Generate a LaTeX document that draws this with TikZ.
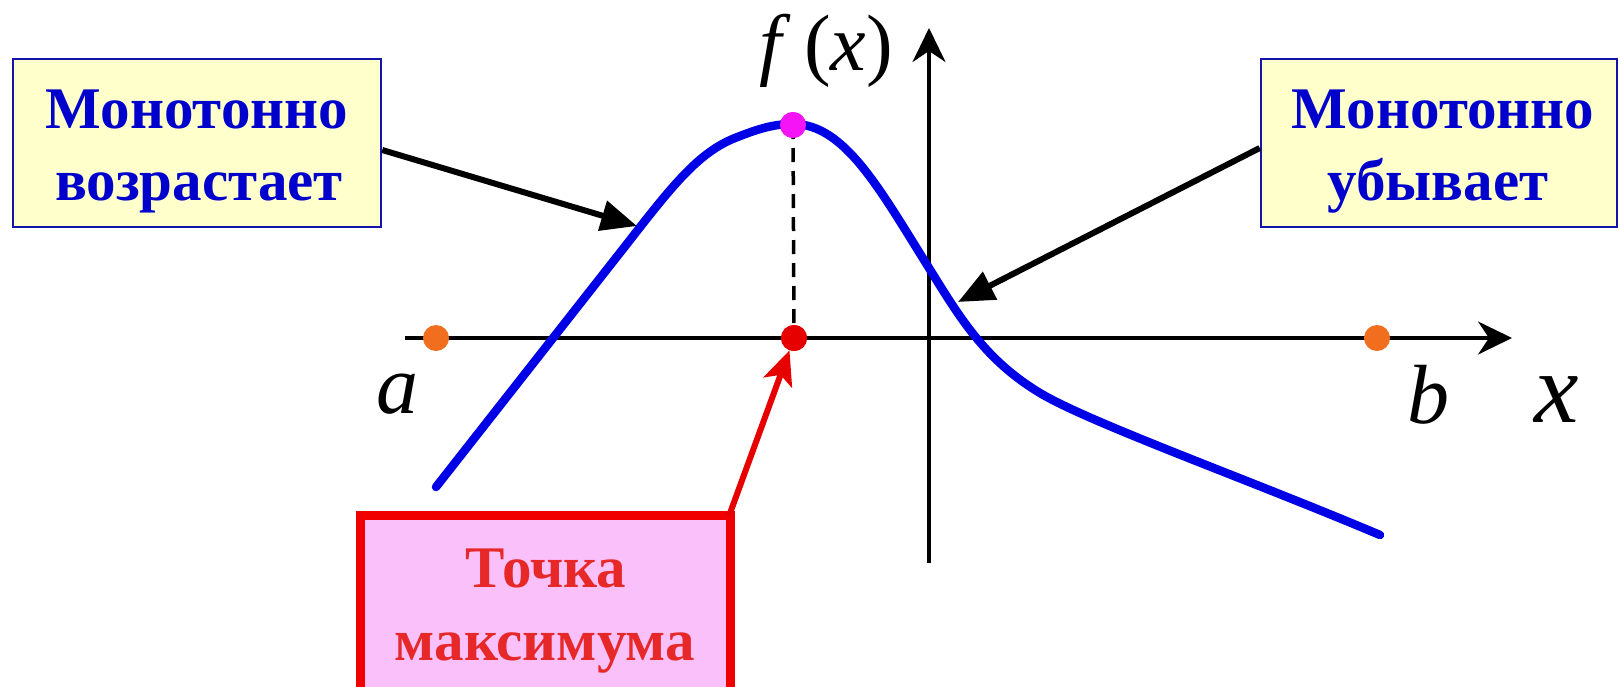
\documentclass[tikz,border=0pt]{standalone}
\usepackage{fontspec}
\setmainfont{Liberation Serif}
\usetikzlibrary{arrows.meta}
\definecolor{curveblue}{RGB}{0,0,230}
\definecolor{boxfill}{RGB}{255,255,204}
\definecolor{boxline}{RGB}{20,20,170}
\definecolor{boxtext}{RGB}{0,0,204}
\definecolor{dotorange}{RGB}{240,110,30}
\definecolor{dotmagenta}{RGB}{245,20,245}
\definecolor{dotred}{RGB}{230,0,0}
\definecolor{rboxline}{RGB}{240,0,0}
\definecolor{rboxfill}{RGB}{250,192,250}
\definecolor{rboxtext}{RGB}{230,40,40}
\tikzset{
  ybox/.style={draw=boxline, line width=2.5pt, fill=boxfill, inner sep=0pt},
  ytext/.style={text=boxtext, font=\fontsize{59}{72}\selectfont\bfseries, inner sep=0pt},
  rbox/.style={draw=rboxline, line width=9pt, fill=rboxfill, inner sep=0pt},
  rtext/.style={text=rboxtext, font=\fontsize{59}{72}\selectfont\bfseries, inner sep=0pt},
  axis/.style={line width=3.5pt, -{Stealth[length=34pt,width=33pt,inset=11pt]}},
  curve/.style={line width=8.5pt, curveblue, line cap=round, line join=round},
  dot/.style={circle, minimum size=26pt, inner sep=0pt, draw=none},
  callout/.style={line width=6pt, -{Triangle[length=36pt,width=30pt]}},
  redarrow/.style={line width=6pt, dotred, -{Stealth[length=34pt,width=30pt,inset=8pt]}},
  droplinestyle/.style={line width=3.5pt, dash pattern=on 14pt off 9pt},
  mathlbl/.style={inner sep=0pt}
}
\begin{document}
\begin{tikzpicture}[x=1pt,y=-1pt]
\clip (0,0) rectangle (1619,686);
\fill[white] (0,0) rectangle (1619,686);

% boxes
\node[ybox, minimum width=368pt, minimum height=168pt] (lbox) at (197,143) {};
\node[ytext, anchor=base] (l1) at (197,128) {Монотонно};
\node[ytext, anchor=base] (l2) at (199,200) {возрастает};

\node[ybox, minimum width=356pt, minimum height=168pt] (rbox) at (1439,143) {};
\node[ytext, anchor=base] (r1) at (1443,128) {Монотонно};
\node[ytext, anchor=base] (r2) at (1438,200) {убывает};

\node[rbox, minimum width=370pt, minimum height=210pt] (mbox) at (545,620) {};
\node[rtext, anchor=base] (m1) at (546,587) {Точка};
\node[rtext, anchor=base] (m2) at (545,660) {максимума};

% axes
\coordinate (xs) at (405,338);
\coordinate (xe) at (1512,338);
\coordinate (ys) at (929,563);
\coordinate (ye) at (929,28);
\draw[axis] (xs) -- (xe);
\draw[axis] (ys) -- (ye);

% labels
\node[mathlbl, anchor=base, font=\fontsize{80}{88}\selectfont] (fx) at (826,70) {\textit{f}\,(\textit{x})};
\node[mathlbl, anchor=base, font=\fontsize{84}{90}\selectfont\itshape] (la) at (397,413) {a};
\node[mathlbl, anchor=base, font=\fontsize{84}{90}\selectfont\itshape] (lb) at (1428,423) {b};
\node[mathlbl, anchor=base, font=\fontsize{100}{110}\selectfont\itshape] (lx) at (1557,422) {x};

% dots (positions)
\node[dot, fill=dotmagenta] (mdot) at (793,125) {};
\node[dot, fill=dotred] (rdot) at (794,338) {};
\draw[droplinestyle] (mdot.center) -- (rdot.center);

% curve
\draw[curve] (436,487) -- (630,240)
  .. controls (675,182) and (700,152) .. (735,138)
  .. controls (760,128) and (775,124) .. (793,124)
  .. controls (845,124) and (880,190) .. (929,268)
  .. controls (960,318) and (985,360) .. (1040,393)
  .. controls (1090,423) and (1250,480) .. (1380,535);

% dots drawn on top
\node[dot, fill=dotmagenta] at (mdot) {};
\node[dot, fill=dotred] at (rdot) {};
\node[dot, fill=dotorange] (adot) at (436,338) {};
\node[dot, fill=dotorange] (bdot) at (1377,338) {};

% callout arrows
\coordinate (lt) at (637,226);
\coordinate (rt) at (958,302);
\coordinate (ra) at (729,516);
\draw[callout] ([yshift=-7pt]lbox.east) -- (lt);
\draw[callout] ([yshift=-5pt]rbox.west) -- (rt);
\draw[redarrow] (ra) -- (rdot);
\end{tikzpicture}
\end{document}
